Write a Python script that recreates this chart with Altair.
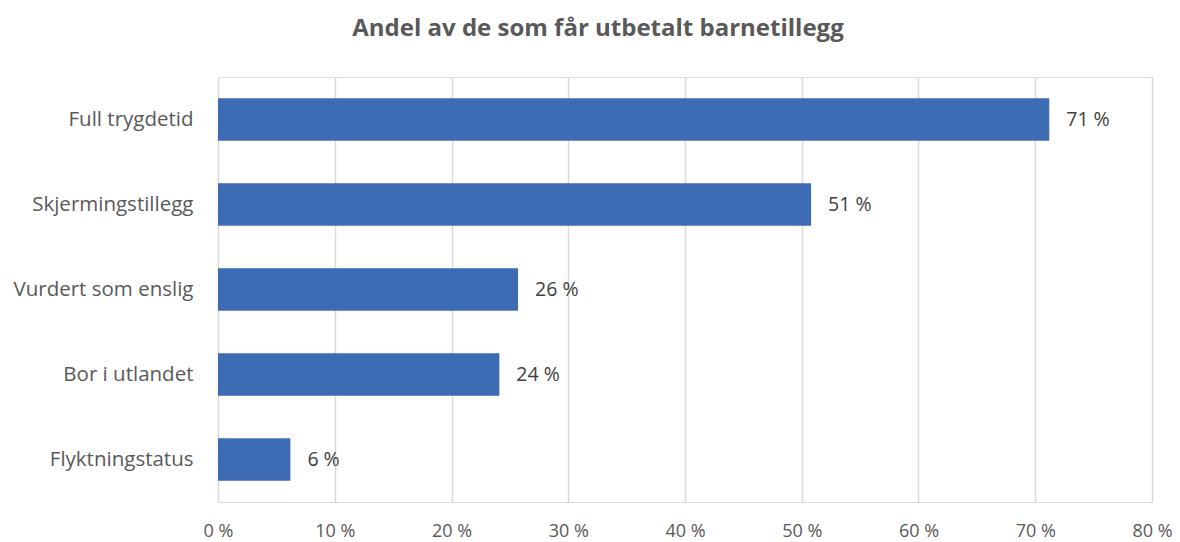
import altair as alt
import pandas as pd

categories = ["Full trygdetid", "Skjermingstillegg", "Vurdert som enslig", "Bor i utlandet", "Flyktningstatus"]
values = [0.712, 0.508, 0.257, 0.241, 0.062]
labels = ["71 %", "51 %", "26 %", "24 %", "6 %"]

df = pd.DataFrame({"kategori": categories, "andel": values, "label": labels})

FONT = "Open Sans"
FS = 19.5

base = alt.Chart(df).encode(
    y=alt.Y("kategori:N", sort=categories, title=None,
            scale=alt.Scale(paddingInner=0.5, paddingOuter=0.25),
            axis=alt.Axis(ticks=False, domain=False, labelPadding=25, labelFontSize=20.5,
                          labelColor="#595959", labelFont=FONT, grid=False)),
)

bars = base.mark_bar(color="#3d6cb4").encode(
    x=alt.X("andel:Q", title=None,
            scale=alt.Scale(domain=[0, 0.8], nice=False),
            axis=alt.Axis(values=[0, 0.1, 0.2, 0.3, 0.4, 0.5, 0.6, 0.7, 0.8],
                          labelExpr="format(datum.value*100, 'd') + ' %'",
                          ticks=False, domain=False, labelPadding=20, labelFontSize=18,
                          labelFlush=False,
                          labelColor="#595959", labelFont=FONT,
                          grid=True, gridColor="#d9d9d9", gridWidth=1.5)),
)

text = base.mark_text(align="left", baseline="middle", dx=17, fontSize=FS,
                      color="#404040", font=FONT).encode(
    x=alt.X("andel:Q"),
    text="label:N",
)

chart = (bars + text).properties(
    width=934, height=425,
    autosize=alt.AutoSizeParams(type="none"),
    padding={"left": 210, "top": 69, "right": 20, "bottom": 40},
    title=alt.TitleParams("Andel av de som får utbetalt barnetillegg", fontSize=24,
                          font=FONT, fontWeight="bold", color="#595959",
                          anchor="middle", dx=-87, offset=36),
).configure_view(stroke="#d9d9d9", strokeWidth=1.5).configure(background="white")

chart.save("out.html", embed_options={"renderer": "svg", "actions": False})
